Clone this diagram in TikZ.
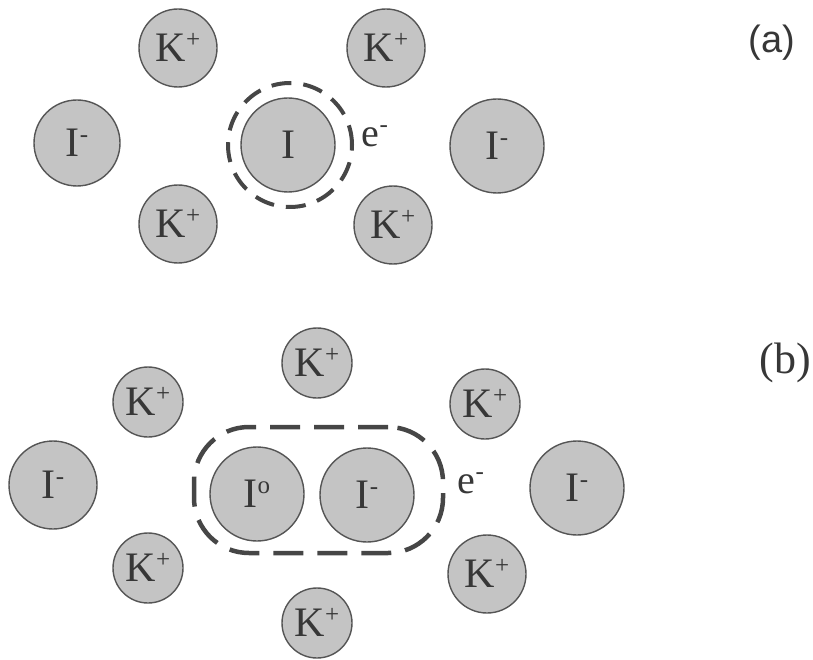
\documentclass[tikz,border=0pt]{standalone}
\usepackage{fontspec}
\setmainfont{Liberation Serif}
\newfontfamily\labsans{Liberation Sans}
\definecolor{ionfill}{RGB}{196,196,196}
\definecolor{ionedge}{RGB}{85,85,85}
\definecolor{inkc}{RGB}{55,55,55}
\definecolor{dashc}{RGB}{70,70,70}
\newcommand{\chg}[1]{\smash{\raisebox{14pt}{\fontsize{25}{25}\selectfont #1}}}
\tikzset{
  ion/.style={circle, draw=ionedge, line width=1.4pt, fill=ionfill, text=inkc,
    inner sep=0pt, font=\fontsize{42}{42}\selectfont},
  kion/.style={ion, minimum size=78pt},
  kions/.style={ion, minimum size=70pt},
  bigion/.style={ion, minimum size=94pt},
  txt/.style={text=inkc, inner sep=0pt, font=\fontsize{40}{40}\selectfont},
  halo/.style={draw=dashc, line width=4pt, dash pattern=on 20pt off 12pt}
}
\begin{document}
\begin{tikzpicture}[x=1pt,y=-1pt]
\useasboundingbox (0,0) rectangle (813,660);
% ---- (a) ----
\node[kion] (ka1) at (178,48) {K\chg{+}};
\node[kion] (ka2) at (386,48) {K\chg{+}};
\node[kion] (ka3) at (178,224) {K\chg{+}};
\node[kion] (ka4) at (393,225) {K\chg{+}};
\node[ion, minimum size=86pt] (ia1) at (77,143) {I\chg{-}};
\node[bigion] (ia0) at (288,145) {I};
\node[bigion] (ia2) at (497,146) {I\chg{-}};
\node[circle, halo, minimum size=124pt, inner sep=0pt] (ha) at (290,145) {};
\node[txt] (ea) at (375,137) {e\chg{-}};
\node[text=inkc, inner sep=0pt, font=\labsans\fontsize{38}{38}\selectfont] (la) at (772,43) {(a)};
% ---- (b) ----
\node[kions] (kb1) at (317,363) {K\chg{+}};
\node[kions] (kb2) at (148,402) {K\chg{+}};
\node[kions] (kb3) at (148,568) {K\chg{+}};
\node[kions] (kb4) at (317,623) {K\chg{+}};
\node[kions] (kb5) at (485,404) {K\chg{+}};
\node[kion] (kb6) at (487,574) {K\chg{+}};
\node[ion, minimum size=88pt] (ib1) at (53,485) {I\chg{-}};
\node[bigion] (ib0) at (257,494) {I\chg{o}};
\node[bigion] (ib2) at (367,495) {I\chg{-}};
\node[bigion] (ib3) at (577,488) {I\chg{-}};
\node[draw=dashc, line width=4.5pt, dash pattern=on 30pt off 14pt, rounded corners=55pt,
  minimum width=249pt, minimum height=126pt, inner sep=0pt] (hb) at (318.5,490) {};
\node[txt] (eb) at (471,484) {e\chg{-}};
\node[txt, font=\fontsize{44}{44}\selectfont] (lb) at (785,363) {(b)};
\end{tikzpicture}
\end{document}
